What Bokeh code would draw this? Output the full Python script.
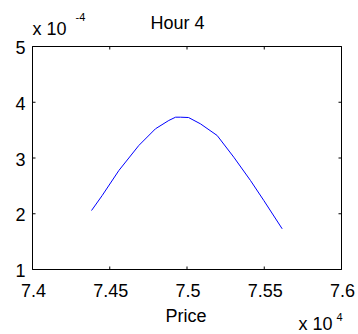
import math
from bokeh.plotting import figure
from bokeh.models import Range1d, Label
from bokeh.core.properties import value
from bokeh.embed import file_html
from bokeh.resources import INLINE

# ---- data (price in units of 1e4, density in units of 1e-4) ----
price = [7.4382, 7.4451, 7.4559, 7.4688, 7.4796, 7.4882, 7.4926, 7.4958,
         7.5010, 7.5087, 7.5195, 7.5303, 7.5411, 7.5497, 7.5616]
density = [2.058, 2.327, 2.776, 3.224, 3.524, 3.673, 3.732, 3.732,
           3.726, 3.613, 3.404, 3.014, 2.596, 2.238, 1.730]

x_ticks = [7.4, 7.45, 7.5, 7.55, 7.6]
x_tick_labels = ["7.4", "7.45", "7.5", "7.55", "7.6"]
y_ticks = [1, 2, 3, 4, 5]
y_tick_labels = ["1", "2", "3", "4", "5"]

title_text = "Hour 4"
x_label = "Price"
y_mult = "x 10"
y_exp = "-4"
x_mult = "x 10"
x_exp = "4"

# ---- layout (pixels) ----
W, H = 358, 334
FL, FR, FT, FB = 32, 341, 46, 269   # axes box edges
FONT = "Liberation Sans"
FS = "18px"
FS_SMALL = "11px"
TICK = 3
DY = -7        # baseline correction for 18px text
DY_S = -4      # baseline correction for 11px text

x0, x1 = x_ticks[0], x_ticks[-1]
y0, y1 = y_ticks[0], y_ticks[-1]
sx = (FR - FL) / (x1 - x0)
sy = (FB - FT) / (y1 - y0)

p = figure(width=W, height=H, output_backend="svg", toolbar_location=None,
           x_range=Range1d(x0 - FL / sx, x1 + (W - FR) / sx),
           y_range=Range1d(y0 - (H - FB) / sy, y1 + FT / sy),
           x_axis_location=None, y_axis_location=None,
           min_border=0)
p.outline_line_color = None
p.background_fill_color = "white"
p.border_fill_color = "white"
p.xgrid.visible = False
p.ygrid.visible = False

# axes box
p.quad(left=[x0], right=[x1], bottom=[y0], top=[y1],
       fill_color=None, line_color="black", line_width=1)

# inward ticks on all four sides
n_x, n_y = len(x_ticks), len(y_ticks)
p.ray(x=x_ticks, y=[y0] * n_x, length=TICK, length_units="screen",
      angle=math.pi / 2, line_color="black", line_width=1)
p.ray(x=x_ticks, y=[y1] * n_x, length=TICK, length_units="screen",
      angle=-math.pi / 2, line_color="black", line_width=1)
p.ray(x=[x0] * n_y, y=y_ticks, length=TICK, length_units="screen",
      angle=0, line_color="black", line_width=1)
p.ray(x=[x1] * n_y, y=y_ticks, length=TICK, length_units="screen",
      angle=math.pi, line_color="black", line_width=1)

# tick labels
p.text(x=x_ticks, y=[y0] * n_x, text=x_tick_labels, x_offset=1,
       y_offset=28 + DY, text_align="center", text_baseline="alphabetic",
       text_font=value(FONT), text_font_size=value(FS), text_color="black")
p.text(x=[x0] * n_y, y=y_ticks, text=y_tick_labels, x_offset=-7,
       y_offset=8 + DY, text_align="right", text_baseline="alphabetic",
       text_font=value(FONT), text_font_size=value(FS), text_color="black")

# data line
p.line(price, density, line_color="#0000ff", line_width=1)


def lab(x, y, text, size, dy, align="left"):
    p.add_layout(Label(x=x, y=H - (y + dy), x_units="screen", y_units="screen",
                       text=text, text_font=FONT, text_font_size=size,
                       text_align=align, text_baseline="alphabetic",
                       text_color="black"))


lab(150, 29, title_text, FS, DY)
lab(32, 35, y_mult, FS, DY)
lab(75, 20, y_exp, FS_SMALL, DY_S)
lab((FL + FR) / 2 - 1, 322, x_label, FS, DY, "center")
lab(298, 330, x_mult, FS, DY)
lab(336, 320, x_exp, FS_SMALL, DY_S)

open("out.html", "w").write(file_html(p, INLINE))
